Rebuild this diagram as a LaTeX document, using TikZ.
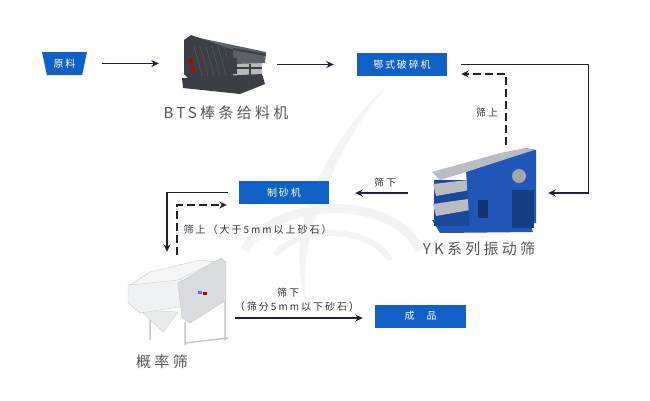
\documentclass[tikz,border=0pt]{standalone}
\usepackage{fontspec}
\setmainfont{Noto Sans CJK SC}
\usetikzlibrary{arrows.meta}
\usetikzlibrary{shapes.geometric}
\definecolor{boxblue}{HTML}{1160C6}
\definecolor{arrowc}{HTML}{1E2233}
\definecolor{captc}{HTML}{555555}
\definecolor{notec}{HTML}{333333}
\definecolor{wmark}{HTML}{F3F3F5}
\definecolor{btsdark}{HTML}{3B3E45}
\definecolor{btsmid}{HTML}{5C6068}
\definecolor{ykblue}{HTML}{1F56B8}
\definecolor{ykgray}{HTML}{B9BDC2}
\definecolor{probgray}{HTML}{D9DCDF}

\begin{document}
\begin{tikzpicture} [x=1pt,y=-1pt,
  flow/.style={draw=arrowc, line width=1.3pt, ->, >={Stealth[length=7.5pt,width=7pt]}},
  bluebox/.style={fill=boxblue, text=white, minimum width=90pt, minimum height=23pt, inner sep=0pt,
    font=\fontsize{10}{12}\selectfont\addfontfeature{LetterSpace=18}},
  machine/.style={inner sep=0pt},
  caption/.style={text=captc, font=\fontsize{15}{18}\selectfont\addfontfeature{LetterSpace=22}},
  note/.style={text=notec, font=\fontsize{10}{12}\selectfont\addfontfeature{LetterSpace=20}}]
\useasboundingbox (0,0) rectangle (650,400);
% watermark
\fill[wmark] (386,86) .. controls (320,150) and (285,230) .. (305,300) .. controls (300,230) and (335,150) .. (386,86);
\draw[wmark, line width=9pt] (245,250) .. controls (270,200) and (390,190) .. (420,250);
\draw[wmark, line width=6pt] (275,255) .. controls (300,225) and (370,225) .. (390,260);
% BTS feeder
\fill[gray!55] (233,62) rectangle (262,76);
\fill[btsdark] (182,78) -- (262,74) -- (265,84) -- (240,94) -- (183,88) -- cycle;
\fill[btsmid] (190,36) -- (266,52) -- (265,63) -- (233,64) -- cycle;
\draw[btsdark, line width=2pt] (233,49) -- (266,55);
\fill[btsdark] (184,40) -- (191,35) -- (233,50) -- (233,80) -- (190,80) -- (184,74) -- cycle;
\foreach \d in {0,6,...,30}
  \draw[btsmid, thin] (194+\d,46) -- (202+\d,76);
\fill[btsdark] (226,58) rectangle (237,74);
\draw[btsdark, line width=1.5pt] (237,68) -- (262,68) (250,64) -- (250,76);
\fill[red!75!black] (191,61) circle (2.6) (193,69) circle (2.6);
% YK vibrating screen
\fill[ykblue] (432,220) -- (530,224) -- (533,232) -- (440,233) -- cycle;
\fill[ykblue!85!black] (434,180) rectangle (470,226);
\fill[ykgray] (433,184) -- (468,180) -- (470,190) -- (436,196) -- cycle;
\fill[ykgray] (433,204) -- (468,199) -- (470,210) -- (436,216) -- cycle;
\fill[ykblue] (466,170) -- (525,148) -- (536,150) -- (536,223) -- (470,230) -- cycle;
\fill[ykgray] (432,172) -- (500,153) -- (525,148) -- (534,150) -- (466,172) -- (440,180) -- cycle;
\fill[ykblue!70!black] (512,190) rectangle (534,228);
\fill[gray!70] (519,176) circle (7);
\fill[ykblue!60!black] (478,200) rectangle (488,218);
% probability screen
\draw[gray!45, line width=1.5pt] (150,318) -- (150,340) (185,322) -- (185,345) (225,300) -- (225,340) (185,343) -- (228,338);
\fill[probgray!60, draw=gray!40] (140,310) -- (178,312) -- (163,332) -- cycle;
\fill[probgray!40, draw=gray!40] (128,285) -- (176,276) -- (186,283) -- (186,306) -- (140,313) -- (128,303) -- cycle;
\fill[probgray!25, draw=gray!40] (130,285) -- (150,272) -- (200,260) -- (215,262) -- (178,280) -- cycle;
\fill[probgray, draw=gray!45] (178,283) -- (221,258) -- (226,262) -- (226,300) -- (190,323) -- (182,318) -- cycle;
\fill[red!70!black] (203,292) rectangle (207,295);
\fill[blue!60] (198,291) rectangle (202,294);
% nodes
\node[bluebox, trapezium, trapezium stretches=true, shape border rotate=180,
  trapezium left angle=72, trapezium right angle=72, minimum width=45pt] (raw) at (64.5,63.5) {原料};
\node[bluebox] (jaw) at (402,64.5) {鄂式破碎机};
\node[bluebox] (sand) at (284,192.5) {制砂机};
\node[bluebox, minimum width=91pt] (prod) at (420.5,316) {成\hspace{12pt}品};
\node[machine, minimum width=88pt, minimum height=62pt] (bts) at (222,64) {};
\node[machine, minimum width=108pt, minimum height=86pt] (yk) at (484,193) {};
\node[machine, minimum width=108pt, minimum height=93pt] (prob) at (174,301.5) {};
\node[caption] (btscap) at (226,113) {BTS棒条给料机};
\node[caption] (ykcap) at (479,249) {YK系列振动筛};
\node[caption] (probcap) at (162,362) {概率筛};
\node[note] (ykup) at (487,113) {筛上};
\node[note] (ykdown) at (385,183) {筛下};
\node[note, anchor=west] (probup) at (180,230) {筛上（大于5mm以上砂石）};
\node[note] (probdown) at (288,293) {筛下};
\node[note] (probsize) at (297,307) {（筛分5mm以下砂石）};
% connectors
\draw[flow, shorten <=17pt, shorten >=19pt] (raw.east) -- (raw.east -| bts.west);
\draw[flow, shorten <=11pt, shorten >=23pt] (bts.east |- jaw.west) -- (jaw.west);
\draw[flow] ([xshift=14pt]jaw.east) -| ([xshift=50pt]yk.east) -- ([xshift=10pt]yk.east);
\draw[flow, dash pattern=on 8pt off 4pt] ([xshift=22pt,yshift=5pt]yk.north) |- ([xshift=14pt,yshift=-9.5pt]jaw.east);
\draw[flow, shorten <=22pt, shorten >=26pt] (yk.west) -- (yk.west -| sand.east);
\draw[flow] ([xshift=-11pt]sand.west) -| ([xshift=-7pt,yshift=3pt]prob.north);
\draw[flow, dash pattern=on 8pt off 4pt] ([xshift=3pt]prob.north) |- ([xshift=-12pt,yshift=-12.5pt]sand.west);
\draw[flow] ([xshift=7pt,yshift=-16.5pt]prob.east) -- ([xshift=-12pt,yshift=-2pt]prod.west);
\end{tikzpicture}
\end{document}
